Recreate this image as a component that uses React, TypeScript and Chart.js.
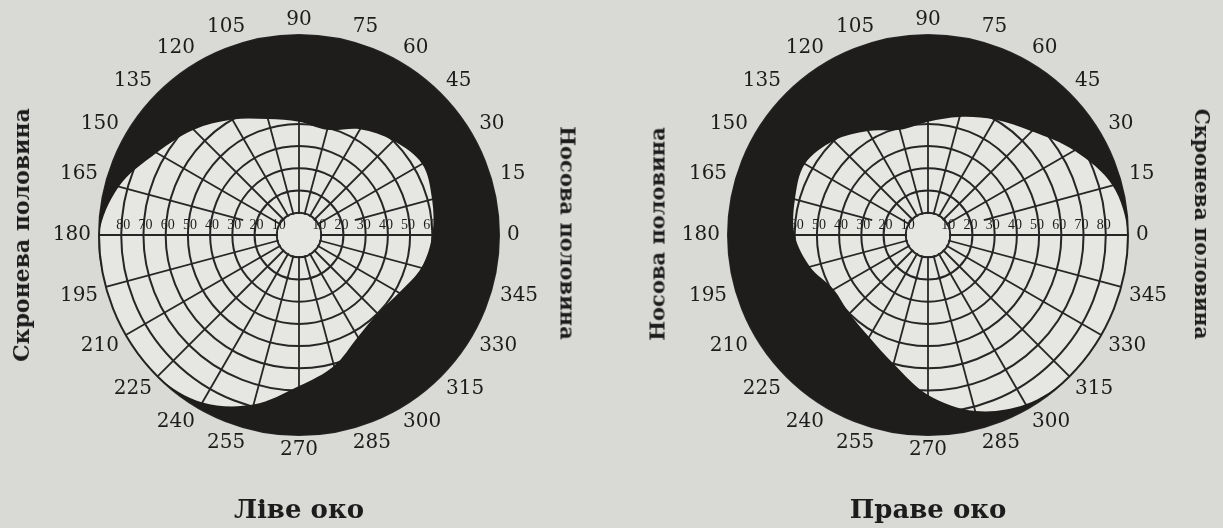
import React, { useEffect, useRef } from "react";
import { Chart, registerables } from "chart.js";

Chart.register(...registerables);

// Meridian labels, clockwise from the top (radar order)
const ANGLE_LABELS = ["90", "75", "60", "45", "30", "15", "0", "345", "330", "315", "300", "285", "270", "255", "240", "225", "210", "195", "180", "165", "150", "135", "120", "105"];
// Visual field boundary (degrees of eccentricity) on each meridian above
const LEFT_EYE_FIELD = [51, 49, 55, 60, 64, 62, 60, 57, 52, 50, 53, 61, 68, 79, 87, 90, 90, 90, 90, 84, 74, 67, 60, 54];
const RIGHT_EYE_FIELD = [51, 55, 60, 66, 76, 86, 90, 90, 90, 90, 88, 82, 72, 60, 53, 50, 49, 55, 60, 62, 64, 60, 54, 49];
// Eccentricity rings labelled along the horizontal meridian
const RING_TICKS = [10, 20, 30, 40, 50, 60, 70, 80];
// Meridians whose grid line starts further out from the centre
const SHORT_MERIDIANS = ["15", "165"];
const EYE_TITLES = ["Ліве око", "Праве око"];
const TEMPORAL = "Скронева половина";
const NASAL = "Носова половина";

const PAGE_BG = "#d9d9d5";
const FIELD_BG = "#e6e6e2";
const INK = "#1f1d1c";
const GRID = "#262626";
const TEXT = "#1c1c1c";

const ringPlugin = {
  id: "ringLabels",
  beforeDatasetsDraw(chart: any) {
    const s = chart.scales.r;
    const ctx = chart.ctx;
    const cx = s.xCenter;
    const cy = s.yCenter;
    const r10 = s.getDistanceFromCenterForValue(10);
    ctx.save();
    // empty central disc
    ctx.fillStyle = FIELD_BG;
    ctx.beginPath();
    ctx.arc(cx, cy, r10 - 1.2, 0, Math.PI * 2);
    ctx.fill();
    // short meridian lines
    ctx.strokeStyle = GRID;
    ctx.lineWidth = 1.8;
    (chart.data.labels as string[]).forEach((lab, i) => {
      if (!SHORT_MERIDIANS.includes(lab)) return;
      const a = s.getPointPosition(i, s.getDistanceFromCenterForValue(26));
      const b = s.getPointPosition(i, s.getDistanceFromCenterForValue(90));
      ctx.beginPath();
      ctx.moveTo(a.x, a.y);
      ctx.lineTo(b.x, b.y);
      ctx.stroke();
    });
    // eccentricity numbers along the horizontal meridian
    ctx.font = "14px 'Liberation Serif'";
    ctx.fillStyle = TEXT;
    ctx.textAlign = "center";
    ctx.textBaseline = "middle";
    for (const v of RING_TICKS) {
      const r = s.getDistanceFromCenterForValue(v) - 2;
      ctx.fillText(String(v), cx - r, cy - 10);
      ctx.fillText(String(v), cx + r, cy - 10);
    }
    ctx.restore();
  },
};

function EyeChart({ field, title, left }: { field: number[]; title: string; left: number }) {
  const ref = useRef<HTMLCanvasElement>(null);
  useEffect(() => {
    const chart = new Chart(ref.current as HTMLCanvasElement, {
      type: "radar",
      data: {
        labels: ANGLE_LABELS,
        datasets: [
          {
            data: field,
            fill: "end",
            backgroundColor: INK,
            borderColor: INK,
            borderWidth: 0,
            pointRadius: 0,
            tension: 0.34,
          } as any,
        ],
      },
      options: {
        animation: false,
        responsive: false,
        maintainAspectRatio: false,
        layout: { padding: { top: 13, bottom: 0, left: 0, right: 0 } },
        plugins: {
          legend: { display: false },
          tooltip: { enabled: false },
          title: {
            display: true,
            text: title,
            position: "bottom",
            color: TEXT,
            font: { family: "'DejaVu Serif'", size: 26, weight: "bold" },
            padding: { top: 39, bottom: 0.8 },
          },
        },
        scales: {
          r: {
            min: 0,
            max: 90,
            backgroundColor: FIELD_BG,
            ticks: { stepSize: 10, display: false },
            grid: { circular: true, color: GRID, lineWidth: 2 },
            angleLines: {
              lineWidth: 1.8,
              color: (c: any) => (SHORT_MERIDIANS.includes(c.label) ? "rgba(0,0,0,0)" : GRID),
            },
            pointLabels: {
              color: TEXT,
              padding: 8,
              font: { family: "'DejaVu Serif'", size: 20, lineHeight: 0.7 },
            },
          },
        },
      } as any,
      plugins: [ringPlugin],
    });
    return () => chart.destroy();
  }, []);
  return <canvas ref={ref} width={600} height={528} style={{ position: "absolute", left, top: 0 }} />;
}

const side = (x: number, y: number, rot: number, size: number): React.CSSProperties => ({
  position: "absolute",
  left: x,
  top: y,
  transform: `translate(-50%, -50%) rotate(${rot}deg)`,
  font: `bold ${size}px 'DejaVu Serif'`,
  color: TEXT,
  whiteSpace: "nowrap",
});

export default function App() {
  return (
    <div style={{ position: "fixed", inset: 0, overflow: "hidden", background: PAGE_BG }}>
      <EyeChart field={LEFT_EYE_FIELD} title={EYE_TITLES[0]} left={-1} />
      <EyeChart field={RIGHT_EYE_FIELD} title={EYE_TITLES[1]} left={628} />
      <div style={side(21, 235, -90, 22)}>{TEMPORAL}</div>
      <div style={side(568, 233, 90, 21)}>{NASAL}</div>
      <div style={side(657, 234, -90, 21)}>{NASAL}</div>
      <div style={side(1202, 224, 90, 20)}>{TEMPORAL}</div>
    </div>
  );
}
